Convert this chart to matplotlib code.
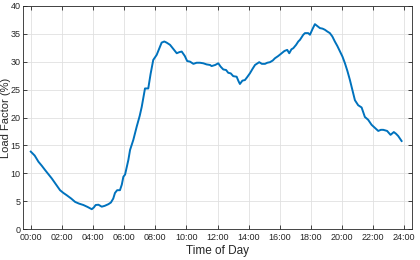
import matplotlib
matplotlib.use("Agg")
import matplotlib.pyplot as plt

hours = [0.0, 0.25, 0.49, 0.7, 0.92, 1.15, 1.35, 1.6, 1.88, 2.1, 2.31, 2.6, 2.85, 3.1, 3.38,
         3.65, 3.92, 4.05, 4.17, 4.35, 4.56, 4.75, 4.99, 5.15, 5.3, 5.41, 5.55, 5.73, 5.85,
         5.95, 6.06, 6.17, 6.27, 6.38, 6.59, 6.81, 7.0, 7.13, 7.34, 7.55, 7.7, 7.87, 8.09,
         8.25, 8.41, 8.58, 8.73, 8.95, 9.15, 9.38, 9.55, 9.70, 9.9, 10.05, 10.23, 10.45,
         10.66, 10.87, 11.09, 11.3, 11.52, 11.62, 11.85, 12.05, 12.2, 12.37, 12.55, 12.69,
         12.85, 13.01, 13.23, 13.35, 13.44, 13.6, 13.76, 13.9, 14.08, 14.25, 14.41, 14.68,
         14.85, 15.05, 15.2, 15.37, 15.55, 15.69, 15.9, 16.12, 16.3, 16.48, 16.61, 16.75,
         16.87, 17.05, 17.19, 17.30, 17.51, 17.62, 17.83, 17.94, 18.1, 18.26, 18.4, 18.58,
         18.75, 18.90, 19.05, 19.22, 19.38, 19.54, 19.7, 19.87, 20.03, 20.19, 20.35, 20.51,
         20.67, 20.83, 21.04, 21.26, 21.47, 21.68, 21.90, 22.1, 22.33, 22.5, 22.65, 22.90,
         23.12, 23.33, 23.47, 23.61, 23.83]
load_factor = [13.9, 13.2, 12.1, 11.4, 10.6, 9.8, 9.1, 8.1, 7.0, 6.5, 6.1, 5.5, 4.9, 4.6, 4.35,
               4.0, 3.6, 3.9, 4.35, 4.4, 4.05, 4.2, 4.5, 4.8, 5.5, 6.5, 7.0, 7.0, 8.0,
               9.4, 9.8, 11.2, 12.4, 14.2, 16.0, 18.4, 20.3, 21.9, 25.2, 25.2, 27.8, 30.3, 31.2,
               32.3, 33.4, 33.6, 33.4, 33.0, 32.3, 31.5, 31.7, 31.8, 31.0, 30.1, 30.0, 29.6,
               29.8, 29.8, 29.7, 29.5, 29.4, 29.2, 29.4, 29.7, 29.1, 28.6, 28.5, 28.0,
               27.9, 27.4, 27.3, 26.5, 26.0, 26.6, 26.7, 27.2, 27.9, 28.7, 29.4, 29.9,
               29.6, 29.6, 29.8, 29.9, 30.2, 30.6, 31.0, 31.5, 31.9, 32.1, 31.5, 32.2,
               32.4, 33.0, 33.6, 33.9, 34.8, 35.1, 35.1, 34.8, 35.8, 36.7, 36.4, 36.0,
               35.9, 35.7, 35.4, 35.1, 34.5, 33.6, 32.8, 31.8, 30.9, 29.7, 28.3, 26.7,
               24.9, 23.1, 22.2, 21.8, 20.1, 19.6, 18.7, 18.2, 17.6, 17.8, 17.8, 17.6,
               16.9, 17.4, 17.1, 16.7, 15.8]

tick_hours = list(range(0, 25, 2))
tick_labels = [f"{h:02d}:00" for h in tick_hours]
y_ticks = list(range(0, 41, 5))

plt.rcParams['font.family'] = ['Liberation Sans', 'DejaVu Sans']

fig = plt.figure(figsize=(4.2, 2.6), dpi=100)
ax = fig.add_axes([0.0555, 0.118, 0.9255, 0.860])
ax.plot(hours, load_factor, color='#0072BD', linewidth=1.4)
ax.set_xlim(-0.48, 24.5)
ax.set_ylim(0, 40)
ax.set_xticks(tick_hours)
ax.set_xticklabels(tick_labels)
ax.set_yticks(y_ticks)
ax.grid(True, color='#e0e0e0', linewidth=0.6)
ax.set_axisbelow(True)
ax.tick_params(direction='in', top=True, right=True, labelsize=6.5, length=3,
               width=0.6, colors='#262626', pad=3)
ax.tick_params(axis='y', pad=2)
for s in ax.spines.values():
    s.set_linewidth(0.6)
    s.set_color('#262626')
ax.set_xlabel("Time of Day", fontsize=8.5, color='#262626', labelpad=2)
ax.set_ylabel("Load Factor (%)", fontsize=8, color='#262626', labelpad=0)
fig.savefig("out.png", dpi=100)
